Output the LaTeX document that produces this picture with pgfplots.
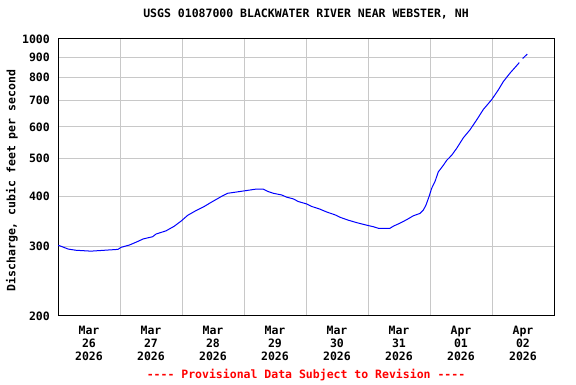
\documentclass[border=0pt]{standalone}
\usepackage{fontspec}
\setmainfont{DejaVu Sans Mono}
\usepackage{pgfplots}
\pgfplotsset{compat=1.18}
\definecolor{gridgray}{RGB}{200,200,200}
\newcommand{\mf}{\bfseries\fontsize{11.5}{13}\selectfont}
\begin{document}
\begin{tikzpicture}
\useasboundingbox (0,0) rectangle (576pt,384pt);
\begin{axis}[
  at={(58pt,68pt)}, anchor=south west,
  scale only axis, width=496pt, height=277pt,
  xmin=0, xmax=8, ymode=log, ymin=200, ymax=1000,
  xtick={0.5,1.5,2.5,3.5,4.5,5.5,6.5,7.5},
  xticklabels={{Mar\\26\\2026},{Mar\\27\\2026},{Mar\\28\\2026},{Mar\\29\\2026},{Mar\\30\\2026},{Mar\\31\\2026},{Apr\\01\\2026},{Apr\\02\\2026}},
  minor xtick={1,2,3,4,5,6,7},
  xminorgrids=true, xmajorgrids=false, ymajorgrids=true, yminorgrids=false,
  ytick={200,300,400,500,600,700,800,900,1000},
  yticklabels={200,300,400,500,600,700,800,900,1000},
  minor ytick={},
  major tick length=0pt, minor tick length=0pt,
  grid style={gridgray, line width=1pt},
  minor grid style={gridgray, line width=1pt},
  axis line style={black, line width=1pt},
  ticklabel style={font=\mf},
  xticklabel style={align=center, anchor=north, inner sep=0pt, yshift=-10pt},
  yticklabel style={anchor=east, inner sep=0pt, xshift=-8pt},
  title={USGS 01087000 BLACKWATER RIVER NEAR WEBSTER, NH},
  title style={font=\mf, at={(axis description cs:0.5,1)}, anchor=base, yshift=15pt},
  ylabel={Discharge, cubic feet per second},
  ylabel style={font=\mf, at={(axis description cs:-0.086,0.489)}, rotate=0, anchor=base},
  xlabel={-{}-{}-{}- Provisional Data Subject to Revision -{}-{}-{}-},
  xlabel style={font=\mf, text=red, at={(axis description cs:0.5,0)}, anchor=base, yshift=-63pt},
]
\addplot[blue, line width=1pt] coordinates {
(0.000,301) (0.021,301) (0.166,295) (0.290,293) (0.532,291.5) (0.747,293) (0.968,294.5)
(1.016,298) (1.150,302) (1.258,307) (1.376,313) (1.527,317) (1.581,322) (1.742,328)
(1.876,337) (1.984,347) (2.092,359) (2.226,369) (2.360,378) (2.468,387) (2.629,400)
(2.737,408) (2.924,412) (3.060,415) (3.194,418) (3.311,418) (3.392,412) (3.473,408)
(3.608,404) (3.689,399) (3.795,395) (3.876,389) (4.011,383.5) (4.092,378) (4.226,372)
(4.334,366) (4.468,360) (4.548,355) (4.682,349) (4.818,344) (4.979,339) (5.085,336)
(5.166,333) (5.355,333) (5.408,337) (5.516,343) (5.624,350) (5.731,358) (5.839,363)
(5.892,370) (5.935,381) (5.984,400) (6.027,420) (6.081,437) (6.134,462) (6.215,480)
(6.269,494) (6.350,509) (6.431,530) (6.537,563) (6.645,590) (6.753,625) (6.860,664)
(6.995,703) (7.102,744) (7.183,781) (7.290,820) (7.424,866) (7.440,872)
};
\addplot[blue, line width=1pt] coordinates {
(7.495,893) (7.569,916)
};
\end{axis}
\end{tikzpicture}
\end{document}
